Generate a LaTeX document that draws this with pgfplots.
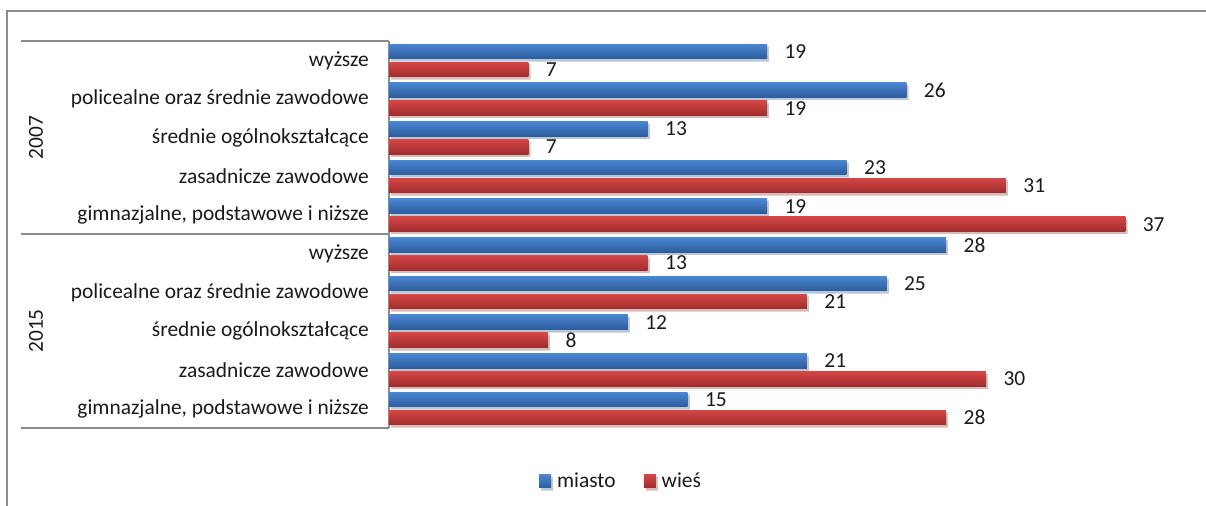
\documentclass[border=0pt]{standalone}
\usepackage{pgfplots}
\pgfplotsset{compat=1.18}
\usepackage{fontspec}
\setmainfont{Carlito}
\usetikzlibrary{shadows}

\definecolor{blueTop}{HTML}{4A86D2}
\definecolor{blueBot}{HTML}{2C5C9C}
\definecolor{redTop}{HTML}{D44646}
\definecolor{redBot}{HTML}{A02C2C}
\definecolor{frameGray}{HTML}{8C8C8C}
\definecolor{txt}{HTML}{1A1A1A}

\pgfplotsset{
  miasto/.style={draw=none, top color=blueTop, bottom color=blueBot, bar shift=-0.233,
    drop shadow={shadow xshift=2bp, shadow yshift=-2.5bp, opacity=0.22}},
  wies/.style={draw=none, top color=redTop, bottom color=redBot, bar shift=0.233,
    drop shadow={shadow xshift=2bp, shadow yshift=-2.5bp, opacity=0.22}},
}
% one bar per plot, so that every bar gets its own gradient
\newcommand\barM[2]{\addplot[miasto, forget plot] coordinates {(#1,#2)};}
\newcommand\barW[2]{\addplot[wies, forget plot] coordinates {(#1,#2)};}

\begin{document}
\begin{tikzpicture}[x=1bp,y=1bp]
  \path[use as bounding box] (0,0) rectangle (1206,506);
  % outer chart frame (left and top edges)
  \draw[frameGray, line width=1.6bp] (7,-5) -- (7,495) -- (1212,495);

  \begin{axis}[
    at={(389bp,78bp)}, anchor=south west,
    scale only axis,
    width=796bp, height=387bp,
    xmin=0, xmax=40,
    ymin=-0.5, ymax=9.5,
    y dir=reverse,
    xbar,
    bar width=0.377,
    axis x line=none,
    axis y line*=left,
    y axis line style={frameGray, line width=1.4bp, -},
    ytick={0,...,9},
    yticklabels={wyższe, policealne oraz średnie zawodowe, średnie ogólnokształcące, zasadnicze zawodowe, {gimnazjalne, podstawowe i niższe},
                 wyższe, policealne oraz średnie zawodowe, średnie ogólnokształcące, zasadnicze zawodowe, {gimnazjalne, podstawowe i niższe}},
    major tick length=0pt,
    yticklabel style={font=\fontsize{21.5}{25}\selectfont, text=txt, anchor=east, inner sep=0pt, xshift=-20bp},
    nodes near coords,
    nodes near coords style={font=\fontsize{21.5}{25}\selectfont, text=txt, anchor=west, xshift=14bp},
    /pgf/number format/assume math mode=true,
    legend columns=2,
    legend style={at={(0.2915,-0.137)}, anchor=center, draw=none, fill=none,
      font=\fontsize{21.5}{25}\selectfont, text=txt,
      /tikz/every odd column/.append style={column sep=4bp},
      /tikz/every even column/.append style={column sep=26bp}},
    legend image code/.code={\fill[#1, drop shadow={opacity=0}] (0bp,-6.5bp) rectangle (12bp,6.5bp);},
    clip=false,
  ]
    % legend entries
    \addlegendimage{miasto}\addlegendentry{miasto}
    \addlegendimage{wies}\addlegendentry{wieś}
    % 2007: miasto / wieś
    \barM{19}{0} \barW{7}{0}
    \barM{26}{1} \barW{19}{1}
    \barM{13}{2} \barW{7}{2}
    \barM{23}{3} \barW{31}{3}
    \barM{19}{4} \barW{37}{4}
    % 2015: miasto / wieś
    \barM{28}{5} \barW{13}{5}
    \barM{25}{6} \barW{21}{6}
    \barM{12}{7} \barW{8}{7}
    \barM{21}{8} \barW{30}{8}
    \barM{15}{9} \barW{28}{9}
  \end{axis}

  % group separators and year labels
  \draw[frameGray, line width=1.4bp] (21,465) -- (389,465);
  \draw[frameGray, line width=1.4bp] (21,272) -- (389,272);
  \draw[frameGray, line width=1.4bp] (21,78) -- (389,78);
  \node[rotate=90, font=\fontsize{21.5}{25}\selectfont, text=txt] at (36,368.5) {2007};
  \node[rotate=90, font=\fontsize{21.5}{25}\selectfont, text=txt] at (36,175) {2015};
\end{tikzpicture}
\end{document}
